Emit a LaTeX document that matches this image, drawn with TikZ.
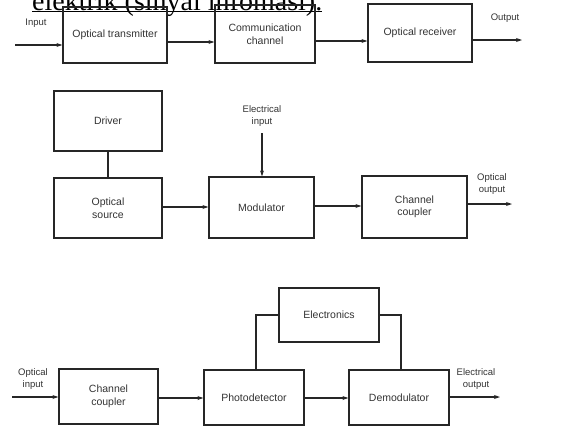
\documentclass[tikz,border=0pt]{standalone}
\usepackage{fontspec}
\setmainfont{Liberation Sans}
\newfontfamily\serifhead{Liberation Serif}
\usetikzlibrary{arrows.meta}
\begin{document}
\begin{tikzpicture}[x=1pt,y=-1pt,
  blk/.style={draw=black!85,line width=1.2pt,inner sep=0pt,font=\fontsize{10.5}{12.5}\selectfont,align=center,text=black!80},
  conn/.style={draw=black!85,line width=1.2pt},
  arr/.style={conn,-{Stealth[length=6pt,width=4pt]}},
  lbl/.style={font=\fontsize{9.5}{12}\selectfont,align=center,text=black!80,inner sep=0pt}]
\useasboundingbox (0,0) rectangle (569,429);
% heading fragment
\node[anchor=base west,inner sep=0pt,font=\serifhead\fontsize{28}{29}\selectfont] (head) at (32,10) {elektrik (sinyal infomasi).};
\draw[line width=0.9pt] (head.base west) ++(0,1.8) -- ([yshift=-1.8pt]head.base east);
% row 1
\node[blk,minimum width=104pt,minimum height=56pt] (tx) at (115,35) {Optical transmitter};
\node[blk,minimum width=100pt,minimum height=58pt] (ch) at (265,34) {Communication\\channel};
\node[blk,minimum width=104pt,minimum height=58pt] (rx) at (420,33) {Optical receiver};
\coordinate (in1) at (15,45);
\coordinate (out1) at (522,40);
\node[lbl] (inlbl) at (36,23) {Input};
\node[lbl] (outlbl) at (505,18) {Output};
\draw[arr] (in1) -- (in1 -| tx.west);
\draw[arr] (tx.east |- 0,42) -- (ch.west |- 0,42);
\draw[arr] (ch.east |- 0,41) -- (rx.west |- 0,41);
\draw[arr] (rx.east |- out1) -- (out1);
% row 2
\node[blk,minimum width=108pt,minimum height=60pt] (drv) at (108,121) {Driver};
\node[blk,minimum width=108pt,minimum height=60pt] (src) at (108,208) {Optical\\source};
\node[blk,minimum width=105pt,minimum height=61pt] (mod) at (261.5,207.5) {Modulator};
\node[blk,minimum width=105pt,minimum height=62pt] (cc1) at (414.5,207) {Channel\\coupler};
\node[lbl] (elin) at (262,116) {Electrical\\input};
\coordinate (elinS) at (262,133);
\coordinate (out2) at (512,204);
\node[lbl] (optout) at (492,184) {Optical\\output};
\draw[conn] (drv) -- (src);
\draw[arr] (elinS) -- (elinS |- mod.north);
\draw[arr] (src.east |- 0,207) -- (mod.west |- 0,207);
\draw[arr] (mod.east |- 0,206) -- (cc1.west |- 0,206);
\draw[arr] (cc1.east |- out2) -- (out2);
% row 3
\node[blk,minimum width=100pt,minimum height=54pt] (elec) at (329,315) {Electronics};
\node[blk,minimum width=99pt,minimum height=55pt] (cc2) at (108.5,396.5) {Channel\\coupler};
\node[blk,minimum width=100pt,minimum height=55pt] (pd) at (254,397.5) {Photodetector};
\node[blk,minimum width=100pt,minimum height=55pt] (dem) at (399,397.5) {Demodulator};
\coordinate (in3) at (12,397);
\coordinate (out3) at (500,397);
\node[lbl] (optin) at (33,379) {Optical\\input};
\node[lbl] (elout) at (476,379) {Electrical\\output};
\draw[arr] (in3) -- (in3 -| cc2.west);
\draw[arr] (cc2.east |- 0,398) -- (pd.west |- 0,398);
\draw[arr] (pd.east |- 0,398) -- (dem.west |- 0,398);
\draw[arr] (dem.east |- out3) -- (out3);
\draw[conn] (pd.north -| 256,0) |- (elec.west);
\draw[conn] (elec.east) -| (dem.north -| 401,0);
\end{tikzpicture}
\end{document}
